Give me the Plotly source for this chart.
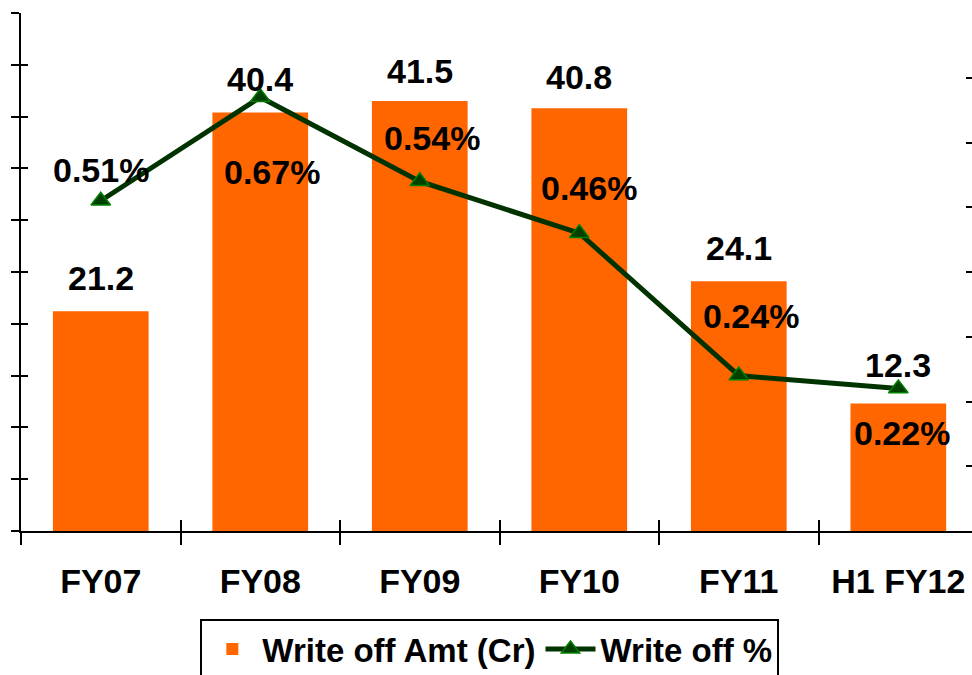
import plotly.graph_objects as go

# Write-off data by financial year
categories = ["FY07", "FY08", "FY09", "FY10", "FY11", "H1 FY12"]
write_off_amt = [21.2, 40.4, 41.5, 40.8, 24.1, 12.3]          # Rs crore
write_off_pct = [0.51, 0.67, 0.54, 0.46, 0.24, 0.22]          # percent
pct_labels = ["0.51%", "0.67%", "0.54%", "0.46%", "0.24%", "0.22%"]

# Label placement (pixel offsets)
amt_label_dy = [33, 33, 30, 31, 33, 39]
pct_label_dx = [0, 12, 12, 10, 12, 4]
pct_label_dy = [31, -75, 43, 45, 60, -44]

FONT = "Arial, Liberation Sans, sans-serif"
ORANGE = "#FF6600"
GREEN = "#003300"
FSIZE = 34

fig = go.Figure()

fig.add_trace(go.Bar(
    x=categories, y=write_off_amt, name="Write off Amt (Cr)",
    marker=dict(color=ORANGE, line=dict(width=0)), width=0.6,
    yaxis="y", xaxis="x",
))

fig.add_trace(go.Scatter(
    x=categories, y=write_off_pct, name="Write off %",
    mode="lines+markers", yaxis="y2", xaxis="x",
    line=dict(color=GREEN, width=5),
    marker=dict(symbol="triangle-up", size=17, color="#004000",
                line=dict(color="#008000", width=1.5)),
    cliponaxis=False,
))

# helper trace so the crossing-tick overlay axes are drawn
fig.add_trace(go.Scatter(
    x=categories, y=write_off_amt, mode="none", xaxis="x2", yaxis="y3",
    showlegend=False, hoverinfo="skip",
))

label_font = dict(family=FONT, size=FSIZE, color="black", weight="bold")

for c, v, dy in zip(categories, write_off_amt, amt_label_dy):
    fig.add_annotation(x=c, y=v, xref="x", yref="y", text=f"{v:.1f}",
                       showarrow=False, yanchor="middle", yshift=dy,
                       font=label_font)

for c, v, t, dx, dy in zip(categories, write_off_pct, pct_labels,
                           pct_label_dx, pct_label_dy):
    fig.add_annotation(x=c, y=v, xref="x", yref="y2", text=t,
                       showarrow=False, yanchor="middle", xshift=dx, yshift=dy,
                       font=label_font)

xrange = [-0.5, 5.462]
axis_common = dict(showgrid=False, zeroline=False)

fig.update_layout(
    width=972, height=675,
    margin=dict(l=21, r=0, t=13, b=144, pad=0, autoexpand=False),
    plot_bgcolor="white", paper_bgcolor="white",
    bargap=0.4,
    xaxis=dict(
        type="category", categoryorder="array", categoryarray=categories,
        range=xrange, showline=True, linecolor="black", linewidth=2,
        ticks="outside", tickson="boundaries", ticklen=12, tickwidth=2,
        tickcolor="black", ticklabelstandoff=19,
        tickfont=dict(family=FONT, size=FSIZE, color="black", weight="bold"),
        **axis_common,
    ),
    xaxis2=dict(
        type="category", categoryorder="array", categoryarray=categories,
        range=xrange, overlaying="x", anchor="y3", showline=False,
        ticks="inside", tickson="boundaries", ticklen=11, tickwidth=2,
        tickcolor="black", showticklabels=False, side="bottom",
        **axis_common,
    ),
    yaxis=dict(
        range=[0, 50], dtick=5, showline=True, linecolor="black", linewidth=2,
        ticks="outside", ticklen=8, tickwidth=2, tickcolor="black",
        showticklabels=False, **axis_common,
    ),
    yaxis3=dict(
        range=[0, 50], dtick=5, overlaying="y", anchor="x2", side="left",
        showline=False, ticks="inside", ticklen=7, tickwidth=2,
        tickcolor="black", showticklabels=False, **axis_common,
    ),
    yaxis2=dict(
        range=[0, 0.8], dtick=0.1, overlaying="y", side="right",
        showline=False, ticks="inside", ticklen=6, tickwidth=2,
        tickcolor="black", showticklabels=False, **axis_common,
    ),
    legend=dict(
        orientation="h", x=0.493, xanchor="center", y=-0.17, yanchor="top",
        bordercolor="black", borderwidth=2, bgcolor="white",
        font=dict(family=FONT, size=33, color="black", weight="bold"),
        itemwidth=50, traceorder="normal",
    ),
    showlegend=True,
)

fig.write_html("out.html")
